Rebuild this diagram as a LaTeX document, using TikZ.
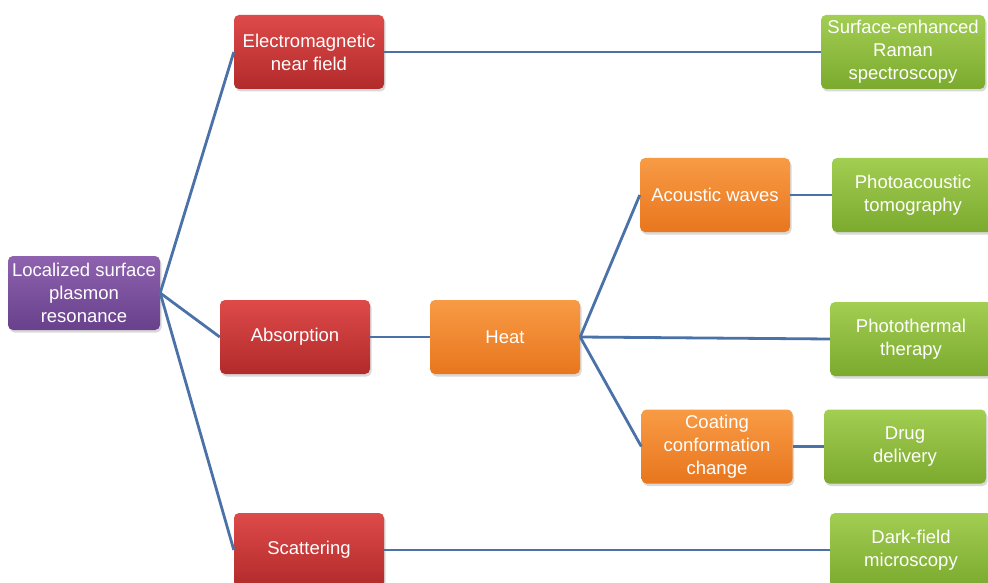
\documentclass[tikz,border=0pt]{standalone}
\usepackage{fontspec}
\setmainfont{Liberation Sans}
\usetikzlibrary{shadows}
\definecolor{linec}{HTML}{4A72A8}
\definecolor{redT}{HTML}{DE4A4A}
\definecolor{redB}{HTML}{B22A2A}
\definecolor{purT}{HTML}{8E62AE}
\definecolor{purB}{HTML}{68408C}
\definecolor{orT}{HTML}{F89B45}
\definecolor{orB}{HTML}{E8761E}
\definecolor{grT}{HTML}{A2CE52}
\definecolor{grB}{HTML}{7BAA2E}
\tikzset{
  box/.style={rectangle, rounded corners=5pt, inner sep=0pt, text=white, align=center,
    font=\fontsize{18.5}{22.8}\selectfont,
    drop shadow={shadow xshift=1.5pt, shadow yshift=-2.5pt, opacity=0.25, fill=black!60}},
  redbox/.style={box, top color=redT, bottom color=redB},
  purbox/.style={box, top color=purT, bottom color=purB},
  orbox/.style={box, top color=orT, bottom color=orB},
  grbox/.style={box, top color=grT, bottom color=grB},
  conn/.style={draw=linec, line width=2.8pt}
}
\begin{document}
\begin{tikzpicture}[x=1pt,y=-1pt]
\useasboundingbox (0,0) rectangle (988,583);
\node[purbox, minimum width=152pt, minimum height=74pt] (lspr) at (84,293) {Localized surface\\plasmon\\resonance};
\node[redbox, minimum width=150pt, minimum height=74pt] (em) at (309,52) {Electromagnetic\\near field};
\node[grbox, minimum width=164pt, minimum height=74pt] (sers) at (903,52) {Surface-enhanced\\Raman\\spectroscopy};
\node[redbox, minimum width=150pt, minimum height=74pt] (abs) at (295,337) {Absorption};
\node[orbox, minimum width=150pt, minimum height=74pt] (heat) at (505,337) {Heat};
\node[orbox, minimum width=150pt, minimum height=74pt] (ac) at (715,195) {Acoustic waves};
\node[grbox, minimum width=162pt, minimum height=74pt] (pa) at (913,195) {Photoacoustic\\tomography};
\node[grbox, minimum width=162pt, minimum height=74pt] (pt) at (911,339) {Photothermal\\therapy};
\node[orbox, minimum width=151pt, minimum height=74pt] (coat) at (717,446.5) {Coating\\conformation\\change};
\node[grbox, minimum width=162pt, minimum height=74pt] (drug) at (905,446.5) {Drug\\delivery};
\node[redbox, minimum width=150pt, minimum height=74pt] (scat) at (309,550) {Scattering};
\node[grbox, minimum width=162pt, minimum height=74pt] (df) at (911,550) {Dark-field\\microscopy};
\draw[conn] (lspr.east) -- (em.west);
\draw[conn] (lspr.east) -- (abs.west);
\draw[conn] (lspr.east) -- (scat.west);
\draw[conn] (em.east) -- (sers.west);
\draw[conn] (abs.east) -- (heat.west);
\draw[conn] (heat.east) -- (ac.west);
\draw[conn] (heat.east) -- (pt.west);
\draw[conn] (heat.east) -- (coat.west);
\draw[conn] (ac.east) -- (pa.west);
\draw[conn] (coat.east) -- (drug.west);
\draw[conn] (scat.east) -- (df.west);
\end{tikzpicture}
\end{document}
